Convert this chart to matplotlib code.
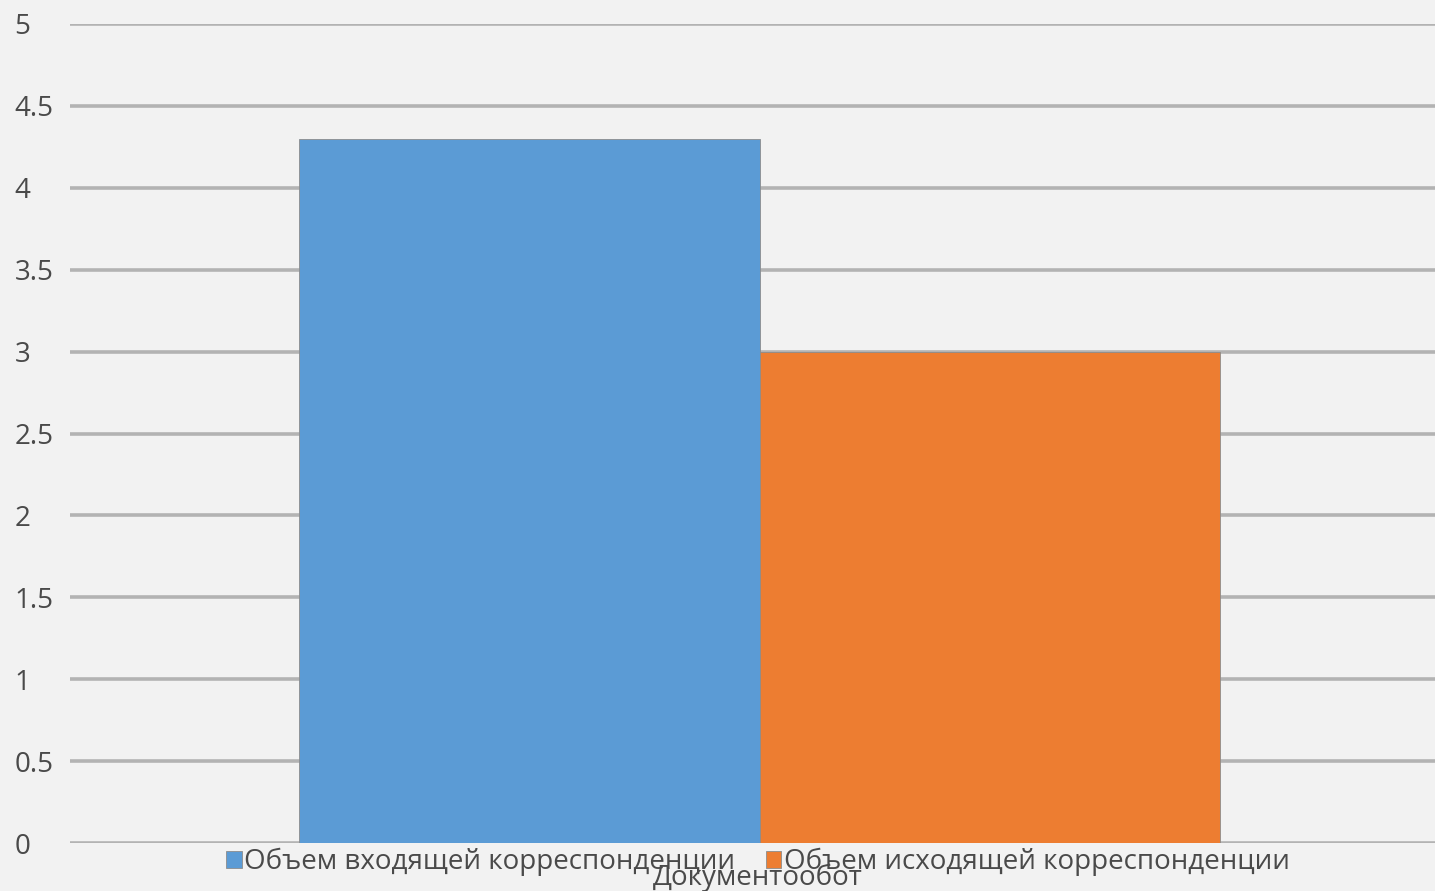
import numpy as np
import matplotlib
matplotlib.use("Agg")
import matplotlib.pyplot as plt

category = 'Документообот'
series_names = ['Объем входящей корреспонденции', 'Объем исходящей корреспонденции']
series_values = [4.3, 3.0]
series_colors = ['#5b9bd5', '#ed7d31']
y_ticks = [0, 0.5, 1, 1.5, 2, 2.5, 3, 3.5, 4, 4.5, 5]
y_tick_labels = ['0', '0.5', '1', '1.5', '2', '2.5', '3', '3.5', '4', '4.5', '5']

plt.rcParams['font.family'] = ['Open Sans', 'DejaVu Sans']

W, H = 1435, 891
fig = plt.figure(figsize=(W / 100, H / 100), dpi=100)
fig.set_facecolor('#f2f2f2')
ax = fig.add_axes([70 / W, 1 - 843 / H, (W - 70) / W, (843 - 24) / H])
ax.set_facecolor('#f2f2f2')

bar_w = 0.5
for i, (name, val, col) in enumerate(zip(series_names, series_values, series_colors)):
    ax.bar(-bar_w / 2 + i * bar_w, val, width=bar_w, color=col, label=name,
           edgecolor='#8c8c8c', linewidth=0.6, zorder=3)

ax.set_xlim(-0.749, 0.733)
ax.set_ylim(0, 5)
ax.set_yticks(y_ticks)
ax.set_yticklabels(y_tick_labels)
ax.set_xticks([])
ax.grid(axis='y', color='#b3b3b3', linewidth=2.6, zorder=0)
ax.set_axisbelow(True)
for s in ax.spines.values():
    s.set_visible(False)
ax.tick_params(axis='y', length=0, pad=40, labelsize=20, labelcolor='#4a4a4a')
for lbl in ax.get_yticklabels():
    lbl.set_horizontalalignment('left')

fig.legend(loc='center', bbox_to_anchor=(758 / W, 1 - 862 / H), ncol=2,
           frameon=False, fontsize=20, handlelength=0.55, handleheight=0.55,
           handletextpad=0.1, columnspacing=1.1, labelcolor='#4a4a4a',
           borderaxespad=0)
fig.text(758 / W, 1 - 878 / H, category, ha='center', va='center',
         fontsize=20, color='#4a4a4a')

fig.savefig('out.png', dpi=100, facecolor=fig.get_facecolor())
